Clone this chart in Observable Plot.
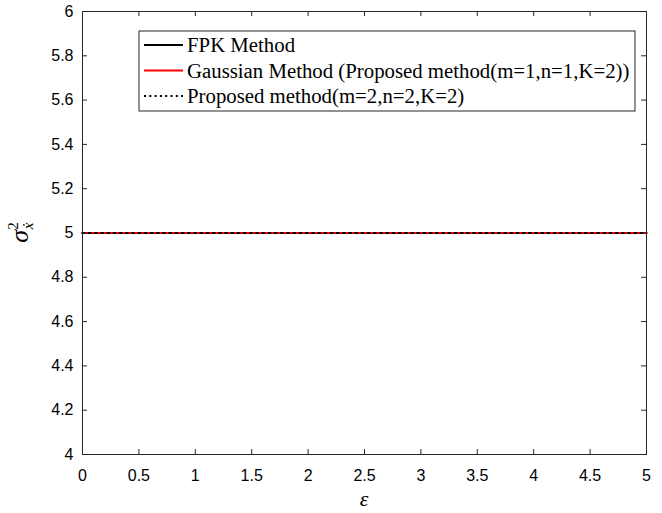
<!DOCTYPE html>
<html>
<head>
<meta charset="utf-8">
<script src="https://cdn.jsdelivr.net/npm/d3@7"></script>
<script src="https://cdn.jsdelivr.net/npm/@observablehq/plot@0.6"></script>
<style>
  html, body { margin: 0; padding: 0; background: #fff; }
  #chart { width: 662px; height: 513px; }
</style>
</head>
<body>
<div id="chart"></div>
<script>
// Data
const epsilon = [0, 5];
const fpk = [5, 5];
const gaussian = [5, 5];
const proposed = [5, 5];
const xTicks = [0, 0.5, 1, 1.5, 2, 2.5, 3, 3.5, 4, 4.5, 5];
const yTicks = [4, 4.2, 4.4, 4.6, 4.8, 5, 5.2, 5.4, 5.6, 5.8, 6];
const seriesNames = ["FPK Method", "Gaussian Method (Proposed method(m=1,n=1,K=2))", "Proposed method(m=2,n=2,K=2)"];

const rows = (ys) => epsilon.map((x, i) => ({x, y: ys[i]}));
const axisColor = "#262626";

const W = 662, H = 513;
const mL = 82, mR = 16, mT = 11, mB = 59;
const fw = W - mL - mR, fh = H - mT - mB;
const tickLen = 5;

const plot = Plot.plot({
  width: W, height: H,
  marginLeft: mL, marginRight: mR, marginTop: mT, marginBottom: mB,
  style: {fontFamily: "'Liberation Sans', Arial, sans-serif", fontSize: "16px", color: axisColor, background: "#fff"},
  x: {domain: [0, 5], ticks: xTicks, label: null},
  y: {domain: [4, 6], ticks: yTicks, label: null},
  marks: [
    Plot.line(rows(fpk), {x: "x", y: "y", stroke: "#000", strokeWidth: 2}),
    Plot.line(rows(gaussian), {x: "x", y: "y", stroke: "#ff0000", strokeWidth: 2.2}),
    Plot.line(rows(proposed), {x: "x", y: "y", stroke: "#000", strokeWidth: 2, strokeDasharray: "2,4.2"}),
    // inward tick marks on all four sides
    Plot.tickX(xTicks, {x: d => d, insetTop: fh - tickLen, stroke: axisColor}),
    Plot.tickX(xTicks, {x: d => d, insetBottom: fh - tickLen, stroke: axisColor}),
    Plot.tickY(yTicks, {y: d => d, insetRight: fw - tickLen, stroke: axisColor}),
    Plot.tickY(yTicks, {y: d => d, insetLeft: fw - tickLen, stroke: axisColor}),
    Plot.frame({stroke: axisColor, strokeWidth: 1}),
    Plot.axisX(xTicks, {anchor: "bottom", tickSize: 0, tickPadding: 15, fill: "#000", fontSize: 16, tickFormat: d => String(d)}),
    Plot.axisY(yTicks, {anchor: "left", tickSize: 0, tickPadding: 9, fill: "#000", fontSize: 16, tickFormat: d => String(d)})
  ]
});

document.getElementById("chart").appendChild(plot);

const svg = d3.select(plot);

// X label
svg.append("text")
  .attr("x", mL + fw / 2)
  .attr("y", 506)
  .attr("text-anchor", "middle")
  .attr("font-family", "'Liberation Serif', 'Times New Roman', serif")
  .attr("font-style", "italic")
  .attr("font-size", 22)
  .attr("fill", "#000")
  .text("ε");

// Y label
const yl = svg.append("text")
  .attr("transform", `translate(28, ${mT + fh / 2}) rotate(-90)`)
  .attr("text-anchor", "middle")
  .attr("font-family", "'Liberation Serif', 'Times New Roman', serif")
  .attr("fill", "#000");
yl.append("tspan").attr("font-style", "italic").attr("font-size", 26).text("σ");
yl.append("tspan").attr("font-size", 15).attr("dy", -10).text("2");
yl.append("tspan").attr("font-style", "italic").attr("font-size", 15).attr("dx", -7).attr("dy", 15).text("ẋ");

// Legend
const lg = svg.append("g").attr("text-anchor", "start");
const lx = 139, ly = 31, lw = 496, lh = 80;
lg.append("rect").attr("x", lx).attr("y", ly).attr("width", lw).attr("height", lh)
  .attr("fill", "#fff").attr("stroke", axisColor).attr("stroke-width", 1);
const styles = [
  {stroke: "#000", dash: null},
  {stroke: "#ff0000", dash: null},
  {stroke: "#000", dash: "2,3.3"}
];
seriesNames.forEach((name, i) => {
  const cy = 45 + i * 25.5;
  const ln = lg.append("line").attr("x1", 144).attr("x2", 183).attr("y1", cy).attr("y2", cy)
    .attr("stroke", styles[i].stroke).attr("stroke-width", 2);
  if (styles[i].dash) ln.attr("stroke-dasharray", styles[i].dash);
  lg.append("text").attr("x", 187).attr("y", cy + 7)
    .attr("text-anchor", "start")
    .attr("font-family", "'Liberation Serif', 'Times New Roman', serif")
    .attr("font-size", 20.8).attr("fill", "#000")
    .text(name);
});
</script>
</body>
</html>
